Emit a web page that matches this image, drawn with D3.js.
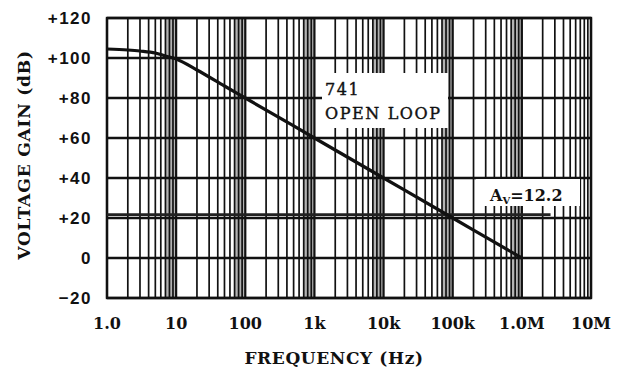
<!DOCTYPE html>
<html>
<head>
<meta charset="utf-8">
<script src="https://cdn.jsdelivr.net/npm/d3@7"></script>
<style>
  body { margin: 0; background: #fff; }
  svg { display: block; }
</style>
</head>
<body>
<div id="chart"></div>
<script>
// values
let freqs = [1, 2, 3, 5, 7, 10, 20, 50, 100, 1000, 10000, 100000, 1000000];
let gainDb = [104.5, 104, 103.5, 102.5, 101, 99.5, 94, 86, 80, 60, 40, 20, 0];
let closedGainDb = 21.7; // Av = 12.2
let closedLoopEnd = 2.6e6;
let xTicks = [1, 10, 100, 1e3, 1e4, 1e5, 1e6, 1e7];
let xTickLabels = ["1.0", "10", "100", "1k", "10k", "100k", "1.0M", "10M"];
let yTicks = [-20, 0, 20, 40, 60, 80, 100, 120];
let yTickLabels = ["\u221220", "0", "+20", "+40", "+60", "+80", "+100", "+120"];

let width = 621, height = 369;
let plotLeft = 107, plotRight = 591, plotTop = 18, plotBottom = 298;
let ink = "#111";

let svg = d3.select("#chart").append("svg")
    .attr("width", width)
    .attr("height", height);

let x = d3.scaleLog().domain([1, 1e7]).range([plotLeft, plotRight]);
let y = d3.scaleLinear().domain([-20, 120]).range([plotBottom, plotTop]);

// darker scan bands near the top of each decade
let bands = d3.range(0, 6).map(d => Math.pow(10, d));
svg.selectAll("rect.band")
    .data(bands)
    .enter().append("rect")
    .attr("x", d => x(d * 7))
    .attr("width", d => x(d * 10) - x(d * 7))
    .attr("y", plotTop)
    .attr("height", plotBottom - plotTop)
    .attr("fill", "#666")
    .attr("opacity", 0.5);

// vertical grid: decades and 2..9
let minor = [];
for (let dec = 0; dec < 7; dec++) {
    for (let m = 2; m <= 9; m++) minor.push(m * Math.pow(10, dec));
}
svg.selectAll("line.minor")
    .data(minor)
    .enter().append("line")
    .attr("x1", d => x(d)).attr("x2", d => x(d))
    .attr("y1", plotTop).attr("y2", plotBottom)
    .attr("stroke", ink)
    .attr("stroke-width", 1.7);

svg.selectAll("line.major")
    .data(xTicks)
    .enter().append("line")
    .attr("x1", d => x(d)).attr("x2", d => x(d))
    .attr("y1", plotTop).attr("y2", plotBottom)
    .attr("stroke", ink)
    .attr("stroke-width", 2.2);

// horizontal grid
svg.selectAll("line.hgrid")
    .data(yTicks)
    .enter().append("line")
    .attr("x1", plotLeft).attr("x2", plotRight)
    .attr("y1", d => y(d)).attr("y2", d => y(d))
    .attr("stroke", ink)
    .attr("stroke-width", 2.4);

svg.append("rect")
    .attr("x", plotLeft).attr("y", plotTop)
    .attr("width", plotRight - plotLeft).attr("height", plotBottom - plotTop)
    .attr("fill", "none")
    .attr("stroke", ink)
    .attr("stroke-width", 2.4);

// closed loop gain line
svg.append("line")
    .attr("x1", x(1)).attr("x2", x(closedLoopEnd))
    .attr("y1", y(closedGainDb)).attr("y2", y(closedGainDb))
    .attr("stroke", "#222")
    .attr("stroke-width", 2.6);

// open loop curve
let line = d3.line()
    .x((d, i) => x(freqs[i]))
    .y(d => y(d))
    .curve(d3.curveMonotoneX);

svg.append("path")
    .attr("d", line(gainDb))
    .attr("fill", "none")
    .attr("stroke", ink)
    .attr("stroke-width", 3.2);

// labels with white boxes
svg.append("rect")
    .attr("x", 322).attr("y", 73)
    .attr("width", 126).attr("height", 55)
    .attr("fill", "#fff");

svg.append("text")
    .attr("x", 325).attr("y", 95)
    .attr("font-family", "DejaVu Serif")
    .attr("font-size", 16)
    .attr("letter-spacing", 1.6)
    .attr("stroke", ink)
    .attr("stroke-width", 0.4)
    .attr("fill", ink)
    .text("741");

svg.append("text")
    .attr("x", 325).attr("y", 119)
    .attr("font-family", "DejaVu Serif")
    .attr("font-size", 16)
    .attr("letter-spacing", 1.6)
    .attr("stroke", ink)
    .attr("stroke-width", 0.4)
    .attr("fill", ink)
    .text("OPEN LOOP");

svg.append("rect")
    .attr("x", 476).attr("y", 179)
    .attr("width", 104).attr("height", 27)
    .attr("fill", "#fff");

let av = svg.append("text")
    .attr("x", 490).attr("y", 201)
    .attr("font-family", "DejaVu Serif")
    .attr("font-weight", "bold")
    .attr("font-size", 16)
    .attr("fill", ink);
av.append("tspan").text("A");
av.append("tspan").attr("font-size", 10).attr("dy", 3).text("V");
av.append("tspan").attr("dy", -3).text("=12.2");

// tick labels
svg.selectAll("text.ytick")
    .data(yTicks)
    .enter().append("text")
    .attr("x", 92)
    .attr("y", d => y(d) + 6)
    .attr("text-anchor", "end")
    .attr("font-family", "Liberation Sans")
    .attr("font-weight", "bold")
    .attr("font-size", 17)
    .attr("letter-spacing", 1.5)
    .attr("fill", ink)
    .text((d, i) => yTickLabels[i]);

svg.selectAll("text.xtick")
    .data(xTicks)
    .enter().append("text")
    .attr("x", d => x(d))
    .attr("y", 329)
    .attr("text-anchor", "middle")
    .attr("font-family", "DejaVu Serif")
    .attr("font-weight", "bold")
    .attr("font-size", 16)
    .attr("fill", ink)
    .text((d, i) => xTickLabels[i]);

svg.append("text")
    .attr("x", 334).attr("y", 364)
    .attr("text-anchor", "middle")
    .attr("font-family", "DejaVu Serif")
    .attr("font-weight", "bold")
    .attr("font-size", 17)
    .attr("letter-spacing", 0.6)
    .attr("fill", ink)
    .text("FREQUENCY (Hz)");

svg.append("text")
    .attr("transform", "translate(30,155) rotate(-90)")
    .attr("text-anchor", "middle")
    .attr("font-family", "DejaVu Serif")
    .attr("font-weight", "bold")
    .attr("font-size", 17)
    .attr("letter-spacing", 0.8)
    .attr("fill", ink)
    .text("VOLTAGE GAIN (dB)");
</script>
</body>
</html>
